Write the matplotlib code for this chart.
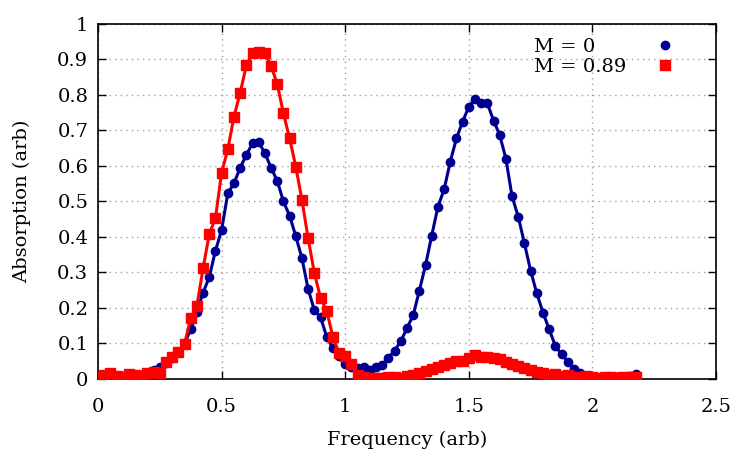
import matplotlib
matplotlib.use("Agg")
import matplotlib.pyplot as plt
from matplotlib.ticker import MultipleLocator, FormatStrFormatter

# frequency grid of the measured points
freq = [0.000, 0.025, 0.050, 0.075, 0.100, 0.125, 0.150, 0.175, 0.200, 0.225,
        0.250, 0.275, 0.300, 0.325, 0.350, 0.375, 0.400, 0.425, 0.450, 0.475,
        0.500, 0.525, 0.550, 0.575, 0.600, 0.625, 0.650, 0.675, 0.700, 0.725,
        0.750, 0.775, 0.800, 0.825, 0.850, 0.875, 0.900, 0.925, 0.950, 0.975,
        1.000, 1.025, 1.050, 1.075, 1.100, 1.125, 1.150, 1.175, 1.200, 1.225,
        1.250, 1.275, 1.300, 1.325, 1.350, 1.375, 1.400, 1.425, 1.450, 1.475,
        1.500, 1.525, 1.550, 1.575, 1.600, 1.625, 1.650, 1.675, 1.700, 1.725,
        1.750, 1.775, 1.800, 1.825, 1.850, 1.875, 1.900, 1.925, 1.950, 1.975,
        2.000, 2.025, 2.050, 2.075, 2.100, 2.125, 2.150, 2.175]

# M = 0
absorb_m0 = [0.000, 0.000, 0.000, 0.000, 0.002, 0.005, 0.008, 0.012, 0.018, 0.025,
             0.033, 0.045, 0.058, 0.075, 0.100, 0.140, 0.190, 0.243, 0.287, 0.361,
             0.420, 0.523, 0.551, 0.595, 0.631, 0.664, 0.667, 0.636, 0.595, 0.558,
             0.500, 0.460, 0.402, 0.340, 0.253, 0.194, 0.174, 0.119, 0.086, 0.066,
             0.042, 0.035, 0.032, 0.035, 0.025, 0.035, 0.040, 0.060, 0.080, 0.107,
             0.143, 0.180, 0.249, 0.321, 0.404, 0.485, 0.534, 0.612, 0.678, 0.725,
             0.767, 0.789, 0.777, 0.776, 0.728, 0.687, 0.620, 0.514, 0.457, 0.382,
             0.305, 0.241, 0.187, 0.140, 0.093, 0.070, 0.049, 0.027, 0.016, 0.008,
             0.005, 0.004, 0.003, 0.004, 0.005, 0.006, 0.008, 0.013]

# M = 0.89
absorb_m89 = [0.006, 0.010, 0.018, 0.008, 0.006, 0.013, 0.010, 0.008, 0.018, 0.021,
              0.016, 0.047, 0.063, 0.077, 0.099, 0.171, 0.206, 0.312, 0.408, 0.453,
              0.581, 0.647, 0.739, 0.806, 0.883, 0.917, 0.922, 0.917, 0.882, 0.831,
              0.748, 0.678, 0.598, 0.504, 0.396, 0.299, 0.229, 0.192, 0.119, 0.072,
              0.065, 0.042, 0.011, 0.006, 0.003, 0.002, 0.004, 0.005, 0.006, 0.004,
              0.008, 0.012, 0.018, 0.022, 0.028, 0.033, 0.038, 0.045, 0.050, 0.052,
              0.058, 0.068, 0.063, 0.062, 0.058, 0.055, 0.048, 0.042, 0.036, 0.030,
              0.025, 0.020, 0.016, 0.010, 0.014, 0.008, 0.010, 0.006, 0.005, 0.008,
              0.006, 0.004, 0.007, 0.005, 0.003, 0.005, 0.006, 0.005]

labels = ['M = 0', 'M = 0.89']
blue = "#000090"
red = "#ff0000"

plt.rcParams['font.family'] = ['DejaVu Serif']
plt.rcParams['font.size'] = 14

fig = plt.figure(figsize=(7.5, 4.5), dpi=100)
ax = fig.add_axes([0.1307, 0.1578, 0.824, 0.789])

ax.plot(freq, absorb_m0, color=blue, lw=2.2, zorder=3)
p0, = ax.plot(freq, absorb_m0, 'o', color=blue, ms=6, lw=0, zorder=4)
ax.plot(freq, absorb_m89, color=red, lw=2.2, zorder=5)
p1, = ax.plot(freq, absorb_m89, 's', color=red, ms=6.5, lw=0, zorder=6)

ax.set_xlim(0, 2.5)
ax.set_ylim(0, 1)
ax.xaxis.set_major_locator(MultipleLocator(0.5))
ax.yaxis.set_major_locator(MultipleLocator(0.1))
ax.xaxis.set_major_formatter(FormatStrFormatter('%g'))
ax.yaxis.set_major_formatter(FormatStrFormatter('%g'))
ax.tick_params(direction='in', length=6, width=1, top=True, right=True)
ax.tick_params(axis='x', pad=14)
ax.tick_params(axis='y', pad=7)
ax.grid(True, color='#a0a0a0', linestyle=(0, (1, 3)), lw=1)
for s in ax.spines.values():
    s.set_linewidth(1.2)

ax.set_xlabel('Frequency (arb)', labelpad=10)
ax.set_ylabel('Absorption (arb)', labelpad=19)

# gnuplot-style key: left-justified texts, markers in a column to the right
leg_text = ax.legend([p0, p1], labels, loc='center left',
                     bbox_to_anchor=(0.705, 0.908), frameon=False,
                     handlelength=0, handletextpad=0, borderpad=0,
                     borderaxespad=0, labelspacing=0.1)
for h in leg_text.legend_handles:
    h.set_visible(False)
ax.add_artist(leg_text)
ax.legend([p0, p1], [' ', ' '], loc='center',
          bbox_to_anchor=(0.922, 0.908), frameon=False,
          handlelength=1.0, handletextpad=0, borderpad=0,
          borderaxespad=0, labelspacing=0.1)

fig.savefig('out.png', dpi=100)
